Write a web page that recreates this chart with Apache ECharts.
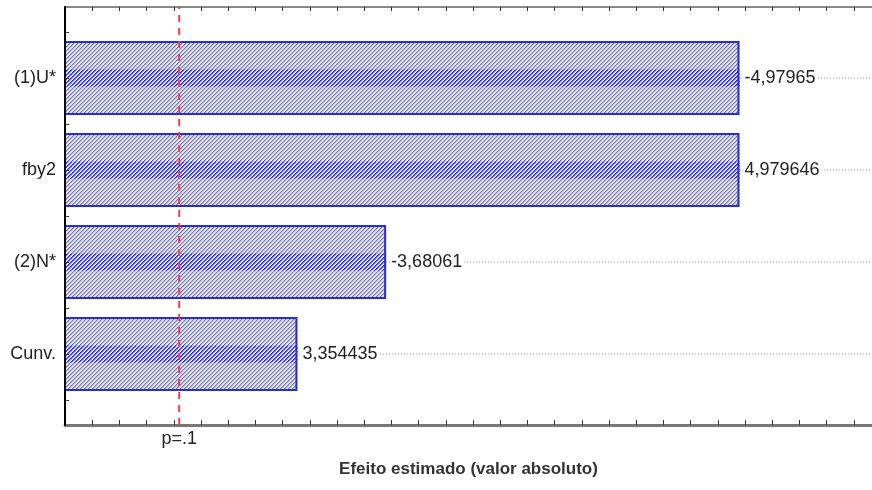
<!DOCTYPE html>
<html><head><meta charset="utf-8">
<script src="https://cdn.jsdelivr.net/npm/echarts@6/dist/echarts.min.js"></script>
<style>html,body{margin:0;padding:0;background:#fff}#c{width:872px;height:490px}</style>
</head><body><div id="c"></div><script>
// ---- data ----
const categories = ['(1)U*', 'fby2', '(2)N*', 'Cunv.'];
const effects = [4.97965, 4.979646, 3.68061, 3.354435];
const effectLabels = ['-4,97965', '4,979646', '-3,68061', '3,354435'];
const pCritical = 2.92;
const pLabel = 'p=.1';
const axisTitle = 'Efeito estimado (valor absoluto)';
const xMin = 2.5, xMax = 5.467;
const halfBands = ['', '', '', '', '', '', '', ''];

// ---- style helpers ----
function makeHatch(cols) {
  const c = document.createElement('canvas'); c.width = 4; c.height = 4;
  const g = c.getContext('2d');
  for (let y = 0; y < 4; y++) {
    for (let x = 0; x < 4; x++) {
      g.fillStyle = cols[(x + y) % 4];
      g.fillRect(x, y, 1, 1);
    }
  }
  return c;
}
const hatchMain = makeHatch(['#74749e', '#b2b2e0', '#e4e4f8', '#e4e4f8']);
const hatchMid = makeHatch(['#2020f0', '#5c5cff', '#d0d0ff', '#ffffff']);
const FONT = '"Liberation Sans", Arial, sans-serif';
const chart = echarts.init(document.getElementById('c'), null, {renderer: 'canvas'});

const guideSeries = categories.map(c => ({
  type: 'line', xAxisIndex: 2, yAxisIndex: 1, z: 1, silent: true,
  symbol: 'none', data: [[xMin, c], [xMax, c]],
  lineStyle: {color: '#9a9a9a', width: 1, type: [1, 2]}
}));

chart.setOption({
  animation: false,
  backgroundColor: '#fff',
  grid: [
    {left: 65, right: 0, top: 7, bottom: 65},
    {left: 65, right: 0, top: 32, bottom: 90}
  ],
  xAxis: [
    {gridIndex: 0, type: 'value', position: 'bottom', min: xMin, max: xMax, interval: 0.1,
     axisLine: {show: true, lineStyle: {color: '#777', width: 3}},
     axisTick: {show: true, inside: true, length: 5, lineStyle: {color: '#333'}},
     splitLine: {show: false},
     axisLabel: {customValues: [pCritical], formatter: () => pLabel, fontFamily: FONT, fontSize: 18, color: '#222', margin: 5},
     name: axisTitle, nameLocation: 'middle', nameGap: 36,
     nameTextStyle: {fontFamily: FONT, fontSize: 17, fontWeight: 'bold', color: '#333'}},
    {gridIndex: 0, type: 'value', position: 'top', min: xMin, max: xMax, interval: 0.1,
     axisLine: {show: true, lineStyle: {color: '#888', width: 2}},
     axisTick: {show: true, inside: true, length: 4, lineStyle: {color: '#333'}},
     splitLine: {show: false}, axisLabel: {show: false}},
    {gridIndex: 1, type: 'value', min: xMin, max: xMax, show: false}
  ],
  yAxis: [
    {gridIndex: 0, type: 'value', min: 0, max: 1, z: 10,
     axisLine: {show: true, lineStyle: {color: '#000', width: 2}},
     axisTick: {show: false}, axisLabel: {show: false}, splitLine: {show: false}},
    {gridIndex: 1, type: 'category', inverse: true, data: categories,
     axisLine: {show: false}, axisTick: {show: false}, splitLine: {show: false},
     axisLabel: {fontFamily: FONT, fontSize: 18, color: '#222', margin: 9}},
    {gridIndex: 1, type: 'category', data: halfBands, position: 'left', z: 10,
     axisLine: {show: false}, axisLabel: {show: false}, splitLine: {show: false},
     axisTick: {show: true, inside: true, length: 4, lineStyle: {color: '#333'}}},
    {gridIndex: 1, type: 'category', inverse: true, data: categories, show: false},
    {gridIndex: 1, type: 'category', inverse: true, data: categories, show: false}
  ],
  series: [
    ...guideSeries,
    {type: 'bar', xAxisIndex: 2, yAxisIndex: 1, z: 3, data: effects, barWidth: 74,
     itemStyle: {color: {image: hatchMain, repeat: 'repeat'}},
     label: {show: true, position: 'right', distance: 4,
       formatter: p => effectLabels[p.dataIndex],
       fontFamily: FONT, fontSize: 18, color: '#222', backgroundColor: '#fff', padding: [0, 2, 0, 1]}},
    {type: 'bar', xAxisIndex: 2, yAxisIndex: 3, z: 4, data: effects, barWidth: 17, silent: true,
     itemStyle: {color: {image: hatchMid, repeat: 'repeat'}}},
    {type: 'bar', xAxisIndex: 2, yAxisIndex: 4, z: 5, data: effects, barWidth: 74, silent: true,
     itemStyle: {color: 'rgba(0,0,0,0)', borderColor: '#2a2ae0', borderWidth: 2}},
    {type: 'line', xAxisIndex: 0, yAxisIndex: 0, z: 6, silent: true, symbol: 'none',
     data: [[pCritical, 0], [pCritical, 1]],
     lineStyle: {color: '#e8404c', width: 2, type: [7, 6]}}
  ]
});
</script></body></html>
